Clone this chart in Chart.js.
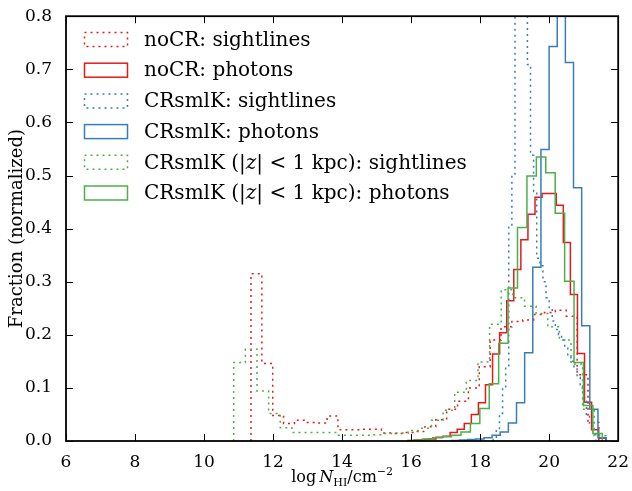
<!DOCTYPE html>
<html>
<head>
<meta charset="utf-8">
<script src="https://cdn.jsdelivr.net/npm/chart.js@4.4.1/dist/chart.umd.min.js"></script>
<style>
html, body { margin: 0; padding: 0; background: #fff; }
</style>
</head>
<body>
<canvas id="hist" width="632" height="491"></canvas>
<script>
// axis ticks
const xTicks = [6, 8, 10, 12, 14, 16, 18, 20, 22];
const yTicks = [0.0, 0.1, 0.2, 0.3, 0.4, 0.5, 0.6, 0.7, 0.8];

// each histogram: first bin edge, bin width, one value per bin
const noCRSightStart = 11.36, noCRSightWidth = 0.315;
const noCRSightValues = [0.315, 0.146, 0.048, 0.033, 0.039, 0.035, 0.034, 0.047, 0.021, 0.021,
  0.022, 0.022, 0.015, 0.014, 0.016, 0.018, 0.027, 0.040, 0.060, 0.075,
  0.100, 0.140, 0.190, 0.215, 0.225, 0.228, 0.238, 0.242, 0.246, 0.235,
  0.125, 0.035];

const noCRPhotStart = 15.9, noCRPhotWidth = 0.205;
const noCRPhotValues = [0.001, 0.002, 0.003, 0.004, 0.007, 0.009, 0.016, 0.022, 0.033, 0.050,
  0.072, 0.106, 0.164, 0.204, 0.264, 0.323, 0.379, 0.427, 0.459, 0.466,
  0.466, 0.444, 0.374, 0.276, 0.165, 0.073, 0.021, 0.005];

const crSightStart = 18.38, crSightWidth = 0.09;
const crSightValues = [0.003, 0.02, 0.052, 0.10, 0.139, 0.407, 0.50, 0.85, 0.95, 0.95,
  0.88, 0.709, 0.538, 0.47, 0.344, 0.33, 0.30, 0.27, 0.25, 0.226,
  0.21, 0.20, 0.19, 0.176, 0.16, 0.15, 0.14, 0.12, 0.10, 0.075,
  0.05, 0.03, 0.015];

const crPhotStart = 17.166, crPhotWidth = 0.236;
const crPhotValues = [0.001, 0.002, 0.003, 0.004, 0.006, 0.011, 0.017, 0.034, 0.072, 0.166,
  0.327, 0.549, 0.743, 0.86, 0.713, 0.477, 0.217, 0.060, 0.006];

const crDiskSightStart = 10.86, crDiskSightWidth = 0.337;
const crDiskSightValues = [0.148, 0.173, 0.094, 0.052, 0.025, 0.016, 0.016, 0.016, 0.016, 0.011,
  0.011, 0.011, 0.012, 0.014, 0.015, 0.020, 0.024, 0.039, 0.058, 0.092,
  0.114, 0.149, 0.22, 0.285, 0.27, 0.254, 0.24, 0.215, 0.19, 0.145,
  0.06, 0.01];

const crDiskPhotStart = 16.08, crDiskPhotWidth = 0.273;
const crDiskPhotValues = [0.002, 0.004, 0.006, 0.008, 0.011, 0.017, 0.033, 0.061, 0.108, 0.184,
  0.288, 0.402, 0.499, 0.535, 0.505, 0.429, 0.301, 0.148, 0.067, 0.014];

const RED = '#e41a1c', BLUE = '#377eb8', GREEN = '#4daf4a';
const SERIF = '"DejaVu Serif", serif';

// outline of a step histogram, drawn with stepped:'before'
function stepPoints(start, width, values) {
  const pts = [{ x: start, y: 0 }];
  values.forEach((v, i) => pts.push({ x: start + i * width, y: v }));
  pts.push({ x: start + values.length * width, y: 0 });
  return pts;
}

function series(label, color, dotted, start, width, values, order) {
  return {
    label: label,
    data: stepPoints(start, width, values),
    borderColor: color,
    borderWidth: 1.5,
    borderDash: dotted ? [2, 4] : [],
    stepped: 'before',
    fill: false,
    pointRadius: 0,
    order: order
  };
}

const datasets = [
  series('noCR: sightlines', RED, true, noCRSightStart, noCRSightWidth, noCRSightValues, 5),
  series('noCR: photons', RED, false, noCRPhotStart, noCRPhotWidth, noCRPhotValues, 4),
  series('CRsmlK: sightlines', BLUE, true, crSightStart, crSightWidth, crSightValues, 3),
  series('CRsmlK: photons', BLUE, false, crPhotStart, crPhotWidth, crPhotValues, 2),
  series('CRsmlK (|z| < 1 kpc): sightlines', GREEN, true, crDiskSightStart, crDiskSightWidth, crDiskSightValues, 1),
  series('CRsmlK (|z| < 1 kpc): photons', GREEN, false, crDiskPhotStart, crDiskPhotWidth, crDiskPhotValues, 0)
];

// text pieces: [text, italic]
const legendPieces = [
  [['noCR: sightlines', false]],
  [['noCR: photons', false]],
  [['CRsmlK: sightlines', false]],
  [['CRsmlK: photons', false]],
  [['CRsmlK (|', false], ['z', true], ['| < 1 kpc): sightlines', false]],
  [['CRsmlK (|', false], ['z', true], ['| < 1 kpc): photons', false]]
];

const framePlugin = {
  id: 'frame',
  afterDraw(chart) {
    const ctx = chart.ctx, a = chart.chartArea;
    const xs = chart.scales.x, ys = chart.scales.y;
    ctx.save();
    ctx.strokeStyle = '#000';
    ctx.setLineDash([]);
    // inward ticks on all sides
    ctx.lineWidth = 1;
    ctx.beginPath();
    xTicks.forEach(t => {
      const px = Math.round(xs.getPixelForValue(t)) + 0.5;
      ctx.moveTo(px, a.bottom); ctx.lineTo(px, a.bottom - 7);
      ctx.moveTo(px, a.top); ctx.lineTo(px, a.top + 7);
    });
    yTicks.forEach(t => {
      const py = Math.round(ys.getPixelForValue(t)) + 0.5;
      ctx.moveTo(a.left, py); ctx.lineTo(a.left + 7, py);
      ctx.moveTo(a.right, py); ctx.lineTo(a.right - 7, py);
    });
    ctx.stroke();
    ctx.lineWidth = 1.8;
    ctx.strokeRect(a.left, a.top, a.right - a.left, a.bottom - a.top);

    // legend inside the axes
    ctx.textBaseline = 'middle';
    chart.data.datasets.forEach((ds, i) => {
      const cy = 39.5 + i * 30.7;
      ctx.strokeStyle = ds.borderColor;
      ctx.lineWidth = 1.5;
      ctx.setLineDash(ds.borderDash);
      ctx.strokeRect(84.5, cy - 7, 43, 14);
      ctx.setLineDash([]);
      ctx.fillStyle = '#000';
      let x = 144;
      legendPieces[i].forEach(([txt, it]) => {
        ctx.font = (it ? 'italic ' : '') + '20px ' + SERIF;
        ctx.fillText(txt, x, cy + 1);
        x += ctx.measureText(txt).width;
      });
    });

    // axis titles
    ctx.fillStyle = '#000';
    ctx.save();
    ctx.translate(17, (a.top + a.bottom) / 2);
    ctx.rotate(-Math.PI / 2);
    ctx.textAlign = 'center';
    ctx.textBaseline = 'middle';
    ctx.font = '18px ' + SERIF;
    ctx.fillText('Fraction (normalized)', 0, 0);
    ctx.restore();

    const parts = [
      ['log', '16px ' + SERIF, 0],
      ['\u2009', '16px ' + SERIF, 0],
      ['N', 'italic 16px ' + SERIF, 0],
      ['HI', '11px ' + SERIF, 4],
      ['/cm', '16px ' + SERIF, 0],
      ['\u22122', '11px ' + SERIF, -7]
    ];
    let total = 0;
    parts.forEach(p => { ctx.font = p[1]; total += ctx.measureText(p[0]).width; });
    let x = (a.left + a.right) / 2 - total / 2;
    ctx.textAlign = 'left';
    ctx.textBaseline = 'alphabetic';
    parts.forEach(p => {
      ctx.font = p[1];
      ctx.fillText(p[0], x, 482 + p[2]);
      x += ctx.measureText(p[0]).width;
    });
    ctx.restore();
  }
};

new Chart(document.getElementById('hist').getContext('2d'), {
  type: 'line',
  data: { datasets: datasets },
  options: {
    responsive: false,
    animation: false,
    devicePixelRatio: 1,
    layout: { padding: { top: 13, right: 10, left: 0, bottom: 0 } },
    plugins: { legend: { display: false }, tooltip: { enabled: false } },
    scales: {
      x: {
        type: 'linear', min: 6, max: 22,
        grid: { display: false }, border: { display: false },
        ticks: { stepSize: 2, color: '#000', padding: 3, maxRotation: 0,
                 font: { family: SERIF, size: 17 } },
        afterFit: s => { s.height = 50; }
      },
      y: {
        min: 0, max: 0.8,
        grid: { display: false }, border: { display: false },
        ticks: { stepSize: 0.1, color: '#000', padding: 6,
                 font: { family: SERIF, size: 17 },
                 callback: v => v.toFixed(1) },
        afterFit: s => { s.width = 66; }
      }
    }
  },
  plugins: [framePlugin]
});
</script>
</body>
</html>
